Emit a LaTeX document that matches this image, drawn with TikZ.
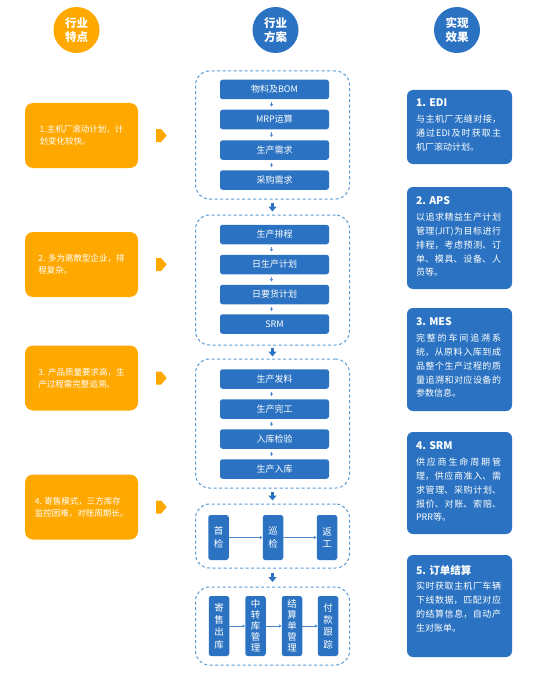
\documentclass[tikz,border=0pt]{standalone}
\usepackage{fontspec}
\setmainfont{Noto Sans CJK SC}
\usetikzlibrary{arrows.meta,calc}
\definecolor{orng}{HTML}{FFA800}
\definecolor{blu}{HTML}{2B73C2}
\definecolor{dashc}{HTML}{5B9BD5}
\newcommand\zhbreaks{\XeTeXlinebreaklocale "zh"\XeTeXlinebreakskip=0pt plus 1pt\relax}
\tikzset{
  circ/.style={circle, fill=#1, minimum size=46pt, inner sep=0pt, text=white,
    font=\fontsize{11.5}{14}\selectfont\bfseries, align=center},
  lbox/.style={fill=orng, rounded corners=8pt, minimum width=113pt, minimum height=65pt,
    inner sep=0pt, text=white, font=\fontsize{8.5}{12}\selectfont, align=left},
  grp/.style={draw=dashc, dash pattern=on 3pt off 2.5pt, line width=1pt,
    rounded corners=14pt, minimum width=154pt, inner sep=0pt},
  ibox/.style={fill=blu, rounded corners=2.5pt, minimum width=109pt, minimum height=19.5pt,
    inner sep=0pt, text=white, font=\fontsize{9}{11}\selectfont},
  vbox/.style={fill=blu, rounded corners=2.5pt, minimum width=20.5pt, inner sep=0pt,
    text=white, align=center},
  rbox/.style={fill=blu, rounded corners=6pt, minimum width=105pt, inner sep=0pt},
  rtxt/.style={anchor=north west, inner sep=0pt, text width=85pt, align=justify,
    text=white, font=\zhbreaks\fontsize{9}{13.8}\selectfont},
  rttl/.style={font=\fontsize{10.5}{13}\selectfont\bfseries},
  bigarr/.style={-{Triangle[width=8pt,length=5pt]}, line width=2.5pt, draw=blu},
  smarr/.style={-{Triangle[width=3pt,length=2.5pt]}, line width=0.6pt, draw=blu!85},
}
\newcommand\rtitle[1]{{\fontsize{10.5}{13}\selectfont\bfseries #1}\par\vspace{2pt}}
\begin{document}
\begin{tikzpicture}[x=1pt,y=-1pt]
\useasboundingbox (0,0) rectangle (550,674);
% header circles
\node[circ=orng] (c1) at (76.5,30) {行业\\特点};
\node[circ=blu] (c2) at (275.5,30) {行业\\方案};
\node[circ=blu] (c3) at (457,30) {实现\\效果};
% left column
\node[lbox] (l1) at (81.5,135.5) {1.主机厂滚动计划，计\\划变化较快。};
\node[lbox] (l2) at (81.5,264.5) {2. 多为离散型企业，排\\程复杂。};
\node[lbox] (l3) at (81.5,378) {3. 产品质量要求高，生\\产过程需完整追溯。};
\node[lbox] (l4) at (81.5,507) {4. 寄售模式，三方库存\\监控困难，对账周期长。};
\foreach \n in {l1,l2,l3,l4}{
  \fill[orng] ([xshift=18pt,yshift=6.5pt]\n.east) -- ++(5,0) -- ++(5.5,6.5)
    -- ++(-5.5,6.5) -- ++(-5,0) -- cycle;
}
% middle groups
\node[grp, minimum height=128pt] (g1) at (272.5,135) {};
\node[grp, minimum height=130pt] (g2) at (272.5,280) {};
\node[grp, minimum height=129pt] (g3) at (272.5,423.5) {};
\node[grp, minimum height=64pt] (g4) at (272.5,536) {};
\node[grp, minimum height=78pt] (g5) at (272.5,626) {};
% group 1
\node[ibox] (a1) at (274.5,89.5) {物料及BOM};
\node[ibox] (a2) at (274.5,119.5) {MRP运算};
\node[ibox] (a3) at (274.5,150) {生产需求};
\node[ibox] (a4) at (274.5,180) {采购需求};
% group 2
\node[ibox] (b1) at (274.5,234.5) {生产排程};
\node[ibox] (b2) at (274.5,264.5) {日生产计划};
\node[ibox] (b3) at (274.5,294.5) {日要货计划};
\node[ibox] (b4) at (274.5,324) {SRM};
% group 3
\node[ibox] (d1) at (274.5,379) {生产发料};
\node[ibox] (d2) at (274.5,409) {生产完工};
\node[ibox] (d3) at (274.5,439) {入库检验};
\node[ibox] (d4) at (274.5,469) {生产入库};
\foreach \p in {a,b,d}{
  \foreach \i/\j in {1/2,2/3,3/4}{
    \draw[smarr] ([xshift=-3pt,yshift=-3pt]\p\i.south) -- ([xshift=-3pt,yshift=3pt]\p\j.north);
  }
}
% group 4
\node[vbox, minimum height=45pt, font=\fontsize{9.5}{12.5}\selectfont] (e1) at (218.5,537.5) {首\\检};
\node[vbox, minimum height=45pt, font=\fontsize{9.5}{12.5}\selectfont] (e2) at (273,537.5) {巡\\检};
\node[vbox, minimum height=45pt, font=\fontsize{9.5}{12.5}\selectfont] (e3) at (327,537.5) {返\\工};
\draw[smarr] (e1.east) -- (e2.west);
\draw[smarr] (e2.east) -- (e3.west);
% group 5
\node[vbox, minimum height=60pt, font=\fontsize{9.5}{12.3}\selectfont] (f1) at (219,626) {寄\\售\\出\\库};
\node[vbox, minimum height=60pt, font=\fontsize{9.5}{11}\selectfont] (f2) at (255.5,626) {中\\转\\库\\管\\理};
\node[vbox, minimum height=60pt, font=\fontsize{9.5}{11}\selectfont] (f3) at (292,626) {结\\算\\单\\管\\理};
\node[vbox, minimum height=60pt, font=\fontsize{9.5}{12.3}\selectfont] (f4) at (328,626) {付\\款\\跟\\踪};
\draw[smarr] (f1.east) -- (f2.west);
\draw[smarr] (f2.east) -- (f3.west);
\draw[smarr] (f3.east) -- (f4.west);
% arrows between groups
\foreach \u/\v/\k in {g1/g2/1,g2/g3/2,g3/g4/3,g4/g5/4}{
  \coordinate (m\k) at ($(\u.south)!.5!(\v.north)$);
  \draw[bigarr] ([yshift=4.5pt]m\k) -- ([yshift=-4.5pt]m\k);
}
% right column
\node[rbox, minimum height=74pt] (r1) at (459.5,127) {};
\node[rbox, minimum height=102pt] (r2) at (459.5,238) {};
\node[rbox, minimum height=103pt] (r3) at (459.5,359.5) {};
\node[rbox, minimum height=102pt] (r4) at (459.5,483) {};
\node[rbox, minimum height=102pt] (r5) at (459.5,606) {};
\node[rtxt] (t1) at ([xshift=9pt,yshift=-9pt]r1.north west)
  {\rtitle{1. EDI}与主机厂无缝对接，\linebreak 通过EDI及时获取主\linebreak 机厂滚动计划。};
\node[rtxt] (t2) at ([xshift=9pt,yshift=-10pt]r2.north west)
  {\rtitle{2. APS}以追求精益生产计划\linebreak 管理(JIT)为目标进行\linebreak 排程，考虑预测、订\linebreak 单、模具、设备、人\linebreak 员等。};
\node[rtxt] (t3) at ([xshift=9pt,yshift=-10pt]r3.north west)
  {\rtitle{3. MES}完整的车间追溯系\linebreak 统，从原料入库到成\linebreak 品整个生产过程的质\linebreak 量追溯和对应设备的\linebreak 参数信息。};
\node[rtxt] (t4) at ([xshift=9pt,yshift=-10pt]r4.north west)
  {\rtitle{4. SRM}供应商生命周期管\linebreak 理，供应商准入、需\linebreak 求管理、采购计划、\linebreak 报价、对账、索赔、\linebreak PRR等。};
\node[rtxt] (t5) at ([xshift=9pt,yshift=-10pt]r5.north west)
  {\rtitle{5. 订单结算}实时获取主机厂车辆\linebreak 下线数据，匹配对应\linebreak 的结算信息，自动产\linebreak 生对账单。};
\end{tikzpicture}
\end{document}
